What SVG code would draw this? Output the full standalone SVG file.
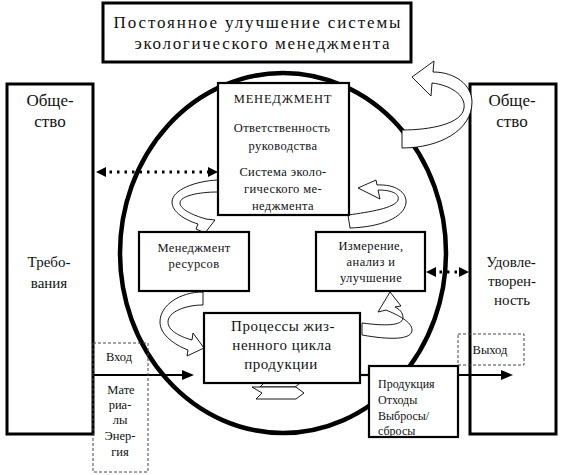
<svg xmlns="http://www.w3.org/2000/svg" width="563" height="475" viewBox="0 0 563 475" font-family="'Liberation Serif', 'Times New Roman', serif">
<style>
.bx{fill:#fff;stroke:#000;stroke-width:2.2}
.bxh{fill:#fff;stroke:#000;stroke-width:3}
.dsh{fill:none;stroke:#444;stroke-width:1;stroke-dasharray:3 2}
.rb{fill:#fff;stroke:#000;stroke-width:0.9;stroke-linejoin:round}
.ln{stroke:#000;stroke-width:2.2;fill:none}
.dot{stroke:#000;stroke-width:3;stroke-dasharray:2.5 5;fill:none}
text{font-family:'Liberation Serif','Times New Roman',serif;fill:#111;text-anchor:middle}
.t12{font-size:12.5px}
.t11{font-size:12px}
.t15{font-size:15px}
.t16{font-size:17px}
.st{text-anchor:start}
</style>
<rect width="563" height="475" fill="#fff"/>
<ellipse id="cycle" cx="283" cy="253" rx="163" ry="180" fill="none" stroke="#000" stroke-width="4.5"/>
<g id="improve">
<rect class="bxh" x="103" y="3" width="308" height="59"/>
<text class="t16" x="257" y="28" textLength="287" lengthAdjust="spacing">Постоянное улучшение системы</text>
<text class="t16" x="262" y="49" textLength="255" lengthAdjust="spacing">экологического менеджмента</text>
</g>
<g id="society-left">
<rect class="bxh" x="7" y="84" width="86" height="350"/>
<text class="t16" x="50" y="106">Обще-</text>
<text class="t16" x="50" y="127">ство</text>
<text class="t15" x="49" y="267">Требо-</text>
<text class="t15" x="49" y="288">вания</text>
</g>
<g id="society-right">
<rect class="bxh" x="470" y="84" width="86" height="350"/>
<text class="t16" x="512" y="106">Обще-</text>
<text class="t16" x="512" y="127">ство</text>
<text class="t15" x="511" y="267">Удовле-</text>
<text class="t15" x="512" y="286">творен-</text>
<text class="t15" x="512" y="305">ность</text>
</g>
<g id="connectors">
<path class="rb" d="M402,130 C430,130 462,124 464,108 C466,95 450,85 432,83 L431,96 L412,77 L434,61 L433,72 C455,72 472,85 472,102 C472,130 440,148 402,148 Z"/>
<path class="rb" d="M218,180 C195,181 172,190 172,202 C172,212 185,220 198,224 L196,229 L205,233 L215,220 L206,219 C192,215 180,209 180,203 C180,196 198,192 218,192 Z"/>
<path class="rb" d="M348,215 C370,212 395,208 398,200 C400,193 390,190 378,190 L380,199 L358,188 L376,180 L377,185 C395,184 407,192 406,203 C404,218 380,227 350,228 Z"/>
<path class="rb" d="M203,292 C180,292 160,305 160,322 C160,335 175,345 188,350 L187,356 L204,348 L193,333 L192,340 C178,336 168,330 168,322 C168,312 185,305 203,305 Z"/>
<path class="rb" d="M362,323 C385,326 402,326 403,318 C403,312 399,309 395,307 L401,306 L390,292 L378,312 L386,310 C398,315 412,322 412,330 C412,340 390,340 362,335 Z"/>
<polygon class="rb" points="256,375 295,375 303,381 295,387 260,387 266,381"/>
<polygon class="rb" points="252,387 296,387 304,393 296,399 256,399 262,393"/>
<line class="dot" x1="102" y1="172" x2="212" y2="172"/>
<path d="M96,172 L106,167 L106,177 Z M218,172 L208,167 L208,177 Z" fill="#000"/>
<line class="dot" x1="432" y1="272" x2="462" y2="272"/>
<path d="M426,272 L436,267 L436,277 Z M469,272 L459,267 L459,277 Z" fill="#000"/>
<line class="ln" x1="93" y1="375" x2="186" y2="375"/>
<path d="M194,375 L182,370 L182,380 Z" fill="#000"/>
<line class="ln" x1="360" y1="375" x2="370" y2="375"/>
<line class="ln" x1="457" y1="375" x2="504" y2="375"/>
<path d="M513,375 L501,370 L501,380 Z" fill="#000"/>
</g>
<g id="management">
<rect class="bx" x="218" y="83" width="131" height="132"/>
<text class="t12" x="283" y="103" letter-spacing="0.8">МЕНЕДЖМЕНТ</text>
<text class="t12" x="282" y="132" letter-spacing="0.4">Ответственность</text>
<text class="t12" x="283" y="150" letter-spacing="0.4">руководства</text>
<text class="t12" x="283" y="176" letter-spacing="0.4">Система эколо-</text>
<text class="t12" x="283" y="193" letter-spacing="0.4">гического ме-</text>
<text class="t12" x="283" y="210" letter-spacing="0.4">неджмента</text>
</g>
<g id="resources">
<rect class="bx" x="139" y="232" width="110" height="59"/>
<text class="t12" x="194" y="252" letter-spacing="0.4">Менеджмент</text>
<text class="t12" x="194" y="268" letter-spacing="0.4">ресурсов</text>
</g>
<g id="measurement">
<rect class="bx" x="316" y="232" width="109" height="59"/>
<text class="t12" x="371" y="250" letter-spacing="0.4">Измерение,</text>
<text class="t12" x="371" y="266" letter-spacing="0.4">анализ и</text>
<text class="t12" x="371" y="282" letter-spacing="0.4">улучшение</text>
</g>
<g id="processes">
<rect class="bx" x="204" y="313" width="156" height="70"/>
<text class="t15" x="283" y="331" letter-spacing="0.5">Процессы жиз-</text>
<text class="t15" x="282" y="350" letter-spacing="0.5">ненного цикла</text>
<text class="t15" x="281" y="369" letter-spacing="0.5">продукции</text>
</g>
<g id="input">
<rect class="dsh" x="93" y="343" width="55" height="129"/>
<text class="t12" x="119" y="361">Вход</text>
<text class="t12" x="121" y="394">Мате</text>
<text class="t12" x="120" y="409">риа-</text>
<text class="t12" x="120" y="424">лы</text>
<text class="t12" x="120" y="440">Энер-</text>
<text class="t12" x="120" y="456">гия</text>
</g>
<g id="outputs">
<rect class="bx" x="369" y="366" width="89" height="71"/>
<text class="t11 st" x="378" y="388">Продукция</text>
<text class="t11 st" x="378" y="404">Отходы</text>
<text class="t11 st" x="378" y="420">Выбросы/</text>
<text class="t11 st" x="378" y="435">сбросы</text>
</g>
<g id="output">
<rect class="dsh" x="458" y="334" width="66" height="31" fill="#fff"/>
<text class="t12" x="490" y="354">Выход</text>
</g>
</svg>
